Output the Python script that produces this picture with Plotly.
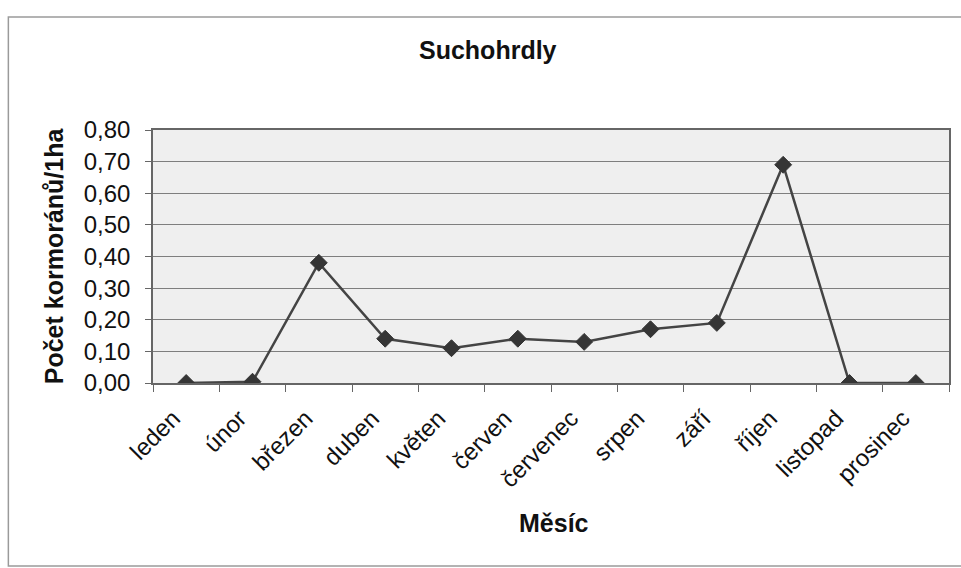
import plotly.graph_objects as go

# Monthly cormorant density at Suchohrdly
months = ["leden", "únor", "březen", "duben", "květen", "červen",
          "červenec", "srpen", "září", "říjen", "listopad", "prosinec"]
density = [0.00, 0.004, 0.38, 0.14, 0.11, 0.14, 0.13, 0.17, 0.19, 0.69, 0.00, 0.00]
y_ticks = [0.0, 0.1, 0.2, 0.3, 0.4, 0.5, 0.6, 0.7, 0.8]

W, H = 961, 568
ML, MR, MT, MB = 153, 10, 130, 185
PW, PH = W - ML - MR, H - MT - MB
FONT = "Liberation Sans, Arial, sans-serif"


def px_x(x):
    return (x - ML) / PW


def px_y(y):
    return (H - MB - y) / PH


fig = go.Figure()
fig.add_trace(go.Scatter(
    x=months, y=density, mode="lines+markers",
    line=dict(color="#444444", width=2.5),
    marker=dict(symbol="diamond", size=13, color="#353535",
                line=dict(color="#353535", width=1)),
    showlegend=False, hoverinfo="x+y",
))

fig.update_layout(
    width=W, height=H,
    margin=dict(l=ML, r=MR, t=MT, b=MB),
    paper_bgcolor="white",
    plot_bgcolor="#efefef",
    separators=", ",
    font=dict(family=FONT, color="#111111"),
    xaxis=dict(
        type="category", range=[-0.5, 11.5],
        showgrid=False, zeroline=False,
        showline=True, linecolor="#666666", linewidth=1.5, mirror=True,
        ticks="outside", tickson="boundaries", ticklen=7, tickcolor="#666666",
        tickangle=-45, ticklabelstandoff=10, ticklabelshift=-13,
        tickfont=dict(size=24, family=FONT, color="#111111"),
    ),
    yaxis=dict(
        range=[0, 0.8], tickvals=y_ticks, tickformat=".2f",
        showgrid=True, gridcolor="#7e7e7e", gridwidth=1.2,
        zeroline=False,
        showline=True, linecolor="#666666", linewidth=1.5, mirror=True,
        ticks="outside", ticklen=6, tickcolor="#666666",
        ticklabelstandoff=10,
        tickfont=dict(size=24, family=FONT, color="#111111"),
    ),
    annotations=[
        dict(text="<b>Suchohrdly</b>", xref="paper", yref="paper",
             x=px_x(489), y=px_y(50), xanchor="center", yanchor="middle",
             showarrow=False, font=dict(size=25, family=FONT, color="#111111")),
        dict(text="<b>Počet kormoránů/1ha</b>", xref="paper", yref="paper",
             x=px_x(54), y=px_y(256), xanchor="center", yanchor="middle",
             textangle=-90, showarrow=False,
             font=dict(size=25, family=FONT, color="#111111")),
        dict(text="<b>Měsíc</b>", xref="paper", yref="paper",
             x=px_x(555), y=px_y(523), xanchor="center", yanchor="middle",
             showarrow=False, font=dict(size=25, family=FONT, color="#111111")),
    ],
    shapes=[
        dict(type="rect", xref="paper", yref="paper",
             x0=px_x(8), x1=px_x(975), y0=px_y(566), y1=px_y(17),
             line=dict(color="#9a9a9a", width=1.5), layer="below"),
    ],
)

fig.write_html("out.html")
